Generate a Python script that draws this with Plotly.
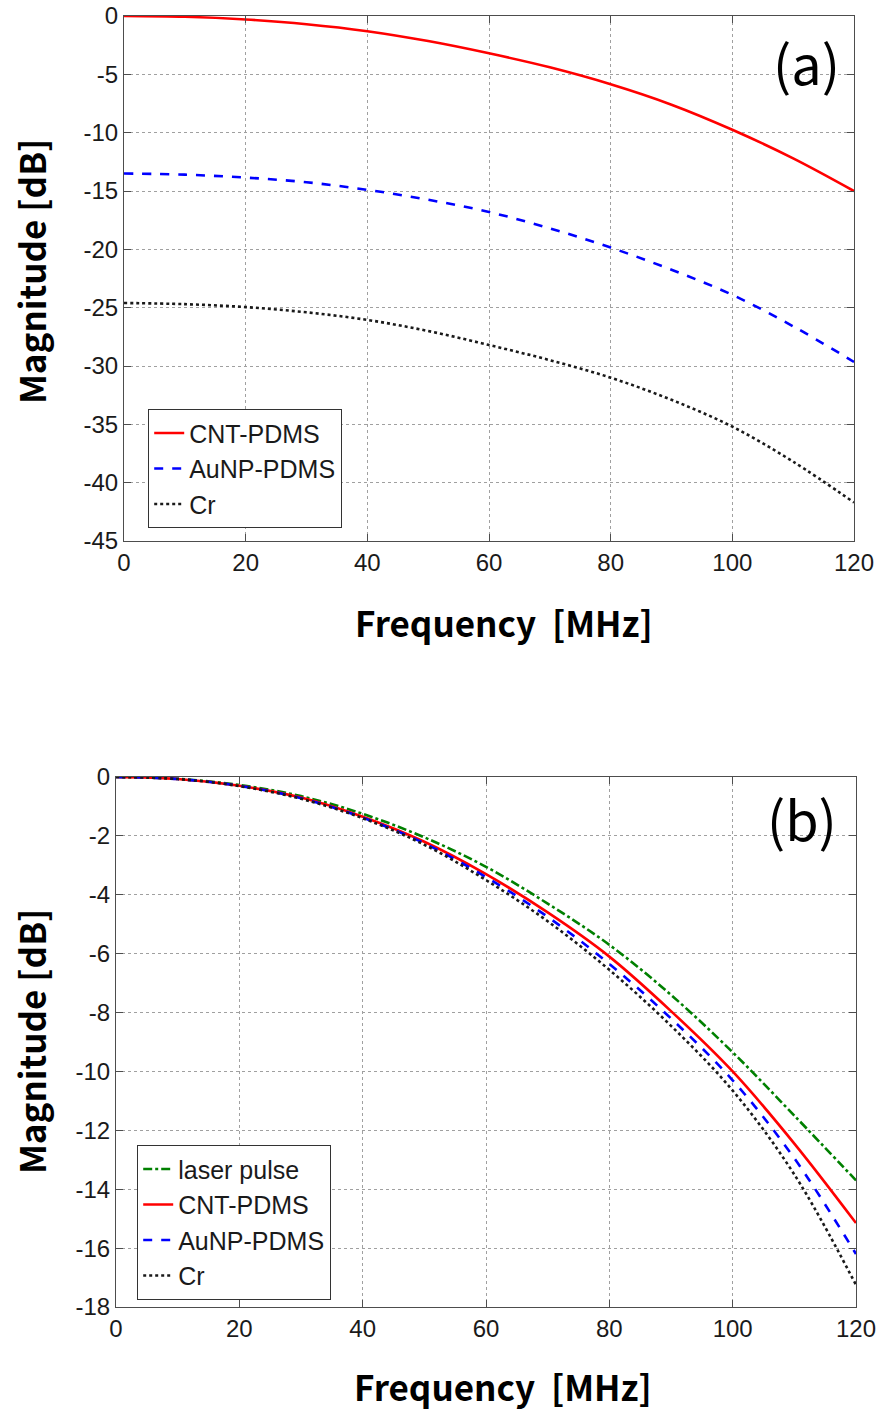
import plotly.graph_objects as go

freq = [0, 10, 20, 30, 40, 50, 60, 70, 80, 90, 100, 110, 120]

# Panel (a)
a_cnt = [0, -0.07, -0.3, -0.7, -1.3, -2.15, -3.2, -4.4, -5.85, -7.6, -9.75, -12.2, -15.0]
a_aunp = [-13.5, -13.6, -13.85, -14.25, -14.9, -15.75, -16.8, -18.2, -19.85, -21.75, -23.9, -26.6, -29.65]
a_cr = [-24.6, -24.7, -24.95, -25.4, -26.05, -27.0, -28.2, -29.5, -31.0, -32.9, -35.2, -38.2, -41.7]

# Panel (b)
b_laser = [0, -0.06, -0.27, -0.65, -1.25, -2.05, -3.05, -4.3, -5.7, -7.4, -9.35, -11.5, -13.7]
b_cnt = [0, -0.07, -0.3, -0.7, -1.35, -2.2, -3.3, -4.6, -6.1, -7.95, -10.0, -12.45, -15.15]
b_aunp = [0, -0.07, -0.3, -0.72, -1.38, -2.25, -3.4, -4.75, -6.35, -8.2, -10.3, -12.95, -16.2]
b_cr = [0, -0.07, -0.31, -0.74, -1.4, -2.3, -3.5, -4.9, -6.55, -8.45, -10.65, -13.5, -17.25]

x_ticks = [0, 20, 40, 60, 80, 100, 120]
x_labels = ["0", "20", "40", "60", "80", "100", "120"]
ya_ticks = [0, -5, -10, -15, -20, -25, -30, -35, -40, -45]
ya_labels = ["0", "-5", "-10", "-15", "-20", "-25", "-30", "-35", "-40", "-45"]
yb_ticks = [0, -2, -4, -6, -8, -10, -12, -14, -16, -18]
yb_labels = ["0", "-2", "-4", "-6", "-8", "-10", "-12", "-14", "-16", "-18"]

W, H = 882, 1410
RED, BLUE, BLACK, GREEN = "#ff0000", "#0000ff", "#1a1a1a", "#008000"
LW = 2.6

fig = go.Figure()

def tr(x, y, name, color, dash, xa, ya, legend):
    fig.add_trace(go.Scatter(x=x, y=y, name=name, mode="lines",
                             line=dict(color=color, dash=dash, width=LW, shape="spline", smoothing=1.0),
                             xaxis=xa, yaxis=ya, legend=legend))

tr(freq, a_cnt, "CNT-PDMS", RED, "solid", "x", "y", "legend")
tr(freq, a_aunp, "AuNP-PDMS", BLUE, "dash", "x", "y", "legend")
tr(freq, a_cr, "Cr", BLACK, "dot", "x", "y", "legend")

tr(freq, b_laser, "laser pulse", GREEN, "dashdot", "x2", "y2", "legend2")
tr(freq, b_cnt, "CNT-PDMS", RED, "solid", "x2", "y2", "legend2")
tr(freq, b_aunp, "AuNP-PDMS", BLUE, "dash", "x2", "y2", "legend2")
tr(freq, b_cr, "Cr", BLACK, "dot", "x2", "y2", "legend2")

tickfont = dict(family="Liberation Sans, Arial", size=24, color="#1a1a1a")
axcommon = dict(showline=True, linecolor="#4d4d4d", linewidth=1.2, mirror="ticks",
                ticks="inside", ticklen=7, tickcolor="#4d4d4d",
                showgrid=True, gridcolor="#a0a0a0", griddash="dot", gridwidth=1,
                zeroline=False, tickfont=tickfont, automargin=False)

def px(x0, x1):
    return [x0 / W, x1 / W]

def py(y0, y1):
    return [1 - y1 / H, 1 - y0 / H]

legfont = dict(family="Liberation Sans, Arial", size=25, color="#1a1a1a")
fig.update_layout(
    width=W, height=H, margin=dict(l=0, r=0, t=0, b=0),
    paper_bgcolor="white", plot_bgcolor="white",
    xaxis=dict(domain=px(124, 854), range=[0, 120], tickvals=x_ticks, ticktext=x_labels, anchor="y", **axcommon),
    yaxis=dict(domain=py(16, 541), range=[-45, 0], tickvals=ya_ticks, ticktext=ya_labels, anchor="x", **axcommon),
    xaxis2=dict(domain=px(116, 856), range=[0, 120], tickvals=x_ticks, ticktext=x_labels, anchor="y2", **axcommon),
    yaxis2=dict(domain=py(777, 1307), range=[-18, 0], tickvals=yb_ticks, ticktext=yb_labels, anchor="x2", **axcommon),
    legend=dict(x=148 / W, y=1 - 409 / H, xanchor="left", yanchor="top",
                bordercolor="#333333", borderwidth=1.2, bgcolor="white",
                font=legfont, itemwidth=30, tracegroupgap=0),
    legend2=dict(x=137 / W, y=1 - 1145 / H, xanchor="left", yanchor="top",
                 bordercolor="#333333", borderwidth=1.2, bgcolor="white",
                 font=legfont, itemwidth=30, tracegroupgap=0),
    showlegend=True,
)

title_font = dict(family="Noto Sans CJK KR, Noto Sans", size=35, color="black", weight="bold")
lab_font = dict(family="Noto Sans CJK KR, Noto Sans", size=54, color="black")
ann = [
    dict(text="Frequency  [MHz]", x=504 / W, y=1 - 621 / H, font=title_font),
    dict(text="Frequency  [MHz]", x=503 / W, y=1 - 1385 / H, font=title_font),
    dict(text="Magnitude [dB]", x=30 / W, y=1 - 272 / H, font=title_font, textangle=-90),
    dict(text="Magnitude [dB]", x=30 / W, y=1 - 1042 / H, font=title_font, textangle=-90),
    dict(text="(a)", x=806 / W, y=1 - 62 / H, font=lab_font),
    dict(text="(b)", x=802 / W, y=1 - 818 / H, font=lab_font),
]
for a in ann:
    fig.add_annotation(xref="paper", yref="paper", showarrow=False,
                       xanchor="center", yanchor="middle", **a)

fig.write_html("out.html", config={"displayModeBar": False},
               post_script="document.body.style.margin='0';document.body.style.overflow='hidden';")
